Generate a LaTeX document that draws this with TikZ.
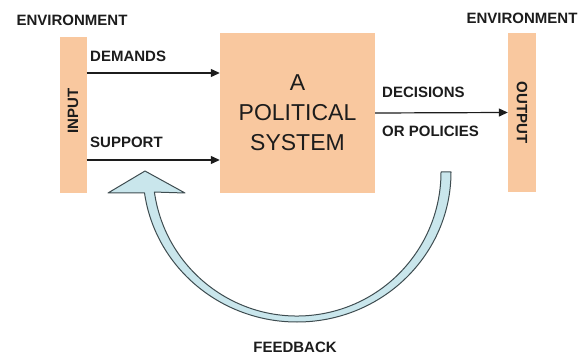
\documentclass[tikz,border=0pt]{standalone}
\usepackage{fontspec}
\setmainfont{Liberation Sans}
\usetikzlibrary{arrows.meta}
\definecolor{ink}{HTML}{1C1C1C}
\definecolor{peach}{HTML}{F9C89F}
\definecolor{loopfill}{HTML}{C9E6EC}
\definecolor{loopedge}{HTML}{3E4C50}
\begin{document}
\begin{tikzpicture}[x=1pt,y=1pt,
  every node/.style={font=\bfseries\fontsize{15}{18}\selectfont,color=ink,inner sep=0pt},
  block/.style={fill=peach,inner sep=0pt},
  flow/.style={draw=ink,line width=1.2pt,-{Triangle[length=9pt,width=8pt]}}]
\useasboundingbox (0,0) rectangle (585,356);
\node[block,minimum width=155,minimum height=160,align=center,
  font=\fontsize{23}{30}\selectfont] (system) at (297.5,243) {A\\POLITICAL\\SYSTEM};
\node[block,minimum width=27,minimum height=156] (input) at (73,241) {};
\node[block,minimum width=28,minimum height=159] (output) at (522,243.5) {};
\node[rotate=90] (inputlab) at ([yshift=4]input) {INPUT};
\node[rotate=-90] (outputlab) at (output) {OUTPUT};
\node (envleft) at (72,336) {ENVIRONMENT};
\node (envright) at (522,338) {ENVIRONMENT};
\coordinate (dem) at (input.east |- 0,283);
\coordinate (sup) at (input.east |- 0,196);
\draw[flow] (dem) -- (dem -| system.west);
\draw[flow] (sup) -- (sup -| system.west);
\draw[flow] (system.east) -- (output.west);
\node[anchor=base west] (demands) at (90,294) {DEMANDS};
\node[anchor=base west] (support) at (90,208) {SUPPORT};
\node[anchor=base west] (decisions) at (382,258) {DECISIONS};
\node[anchor=base west] (policies) at (382,219) {OR POLICIES};
% curved feedback arrow, thinner at the bottom
\coordinate (c) at (297,184);
\draw[fill=loopfill,draw=loopedge,line width=1pt,line join=round]
  ([shift={(0:154 and 150)}]c) arc[start angle=0,end angle=-172,x radius=154,y radius=150]
  -- (108,163) -- (145,185) -- (185,163)
  -- ([shift={(-172:144 and 144)}]c) arc[start angle=-172,end angle=0,x radius=144,y radius=144]
  -- cycle;
\node (feedback) at (295,9) {FEEDBACK};
\end{tikzpicture}
\end{document}
